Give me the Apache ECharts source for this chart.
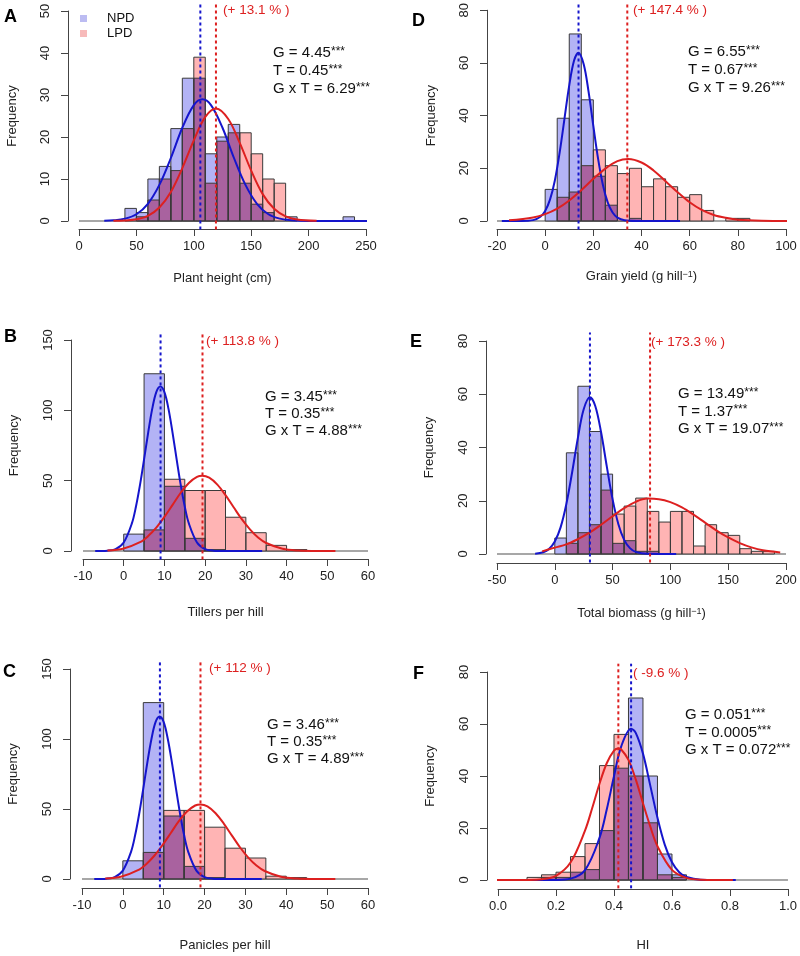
<!DOCTYPE html>
<html><head><meta charset="utf-8">
<script src="https://cdn.jsdelivr.net/npm/echarts@6/dist/echarts.min.js"></script>
<style>html,body{margin:0;padding:0;background:#fff}#c{width:800px;height:956px}</style>
</head><body><div id="c"></div>
<script>
// ---------------- DATA ----------------
// Panel A: Plant height (cm)
const A_breaks = [20,30,40,50,60,70,80,90,100,110,120,130,140,150,160,170,180,190,200,210,220,230,240];
const A_npd = [0,0,3,2,10,13,22,34,34,16,20,23,9,4,2,0,1,0,0,0,0,1];
const A_lpd = [0,0,0,1,5,10,12,22,39,9,19,21,21,16,10,9,0,0,0,0,0,0];
const A_means = [105.7, 119.3];
const A_npdCurve = [[22,0.05],[30,0.16],[40,0.56],[50,1.6],[60,4.1],[70,8.6],[80,15],[90,22.2],[100,27.6],[107.5,29],[115,27.6],[125,22.2],[135,15],[145,8.6],[155,4.1],[165,1.6],[175,0.56],[185,0.16],[200,0.02],[255,0]];
const A_lpdCurve = [[30,0.03],[40,0.11],[50,0.4],[60,1.2],[70,3.2],[80,6.9],[90,12.6],[100,19.2],[110,24.8],[119.5,26.8],[130,24.3],[140,18.6],[150,12],[160,6.4],[170,2.9],[180,1.1],[190,0.35],[207,0.03]];
const A_xTicks = [0,50,100,150,200,250];
const A_yTicks = [0,10,20,30,40,50];
const A_stats = ['4.45','0.45','6.29'];
const A_pct = '(+ 13.1 % )';

// Panel D: Grain yield
const D_breaks = [0,5,10,15,20,25,30,35,40,45,50,55,60,65,70,75,80,85];
const D_npd = [12,39,71,46,17,6,0,1,0,0,0,0,0,0,0,0,0];
const D_lpd = [0,9,11,21,27,21,18,20,13,16,13,9,10,4,0,1,1];
const D_means = [13.85, 34.1];
const D_npdCurve = [[-18,0],[-10,0.01],[-5,0.33],[-2,1.6],[0,3.8],[2,8.1],[4,15.3],[6,25.9],[8,38.7],[10,51.5],[12,60.9],[13.8,63.9],[16,59.5],[18,49.2],[20,36.1],[22,23.5],[24,13.6],[26,7.0],[28,3.2],[30,1.3],[33,0.27],[38,0.01],[56,0]];
const D_lpdCurve = [[-15,0.26],[-5,1.35],[0,2.6],[5,4.7],[10,7.8],[15,11.7],[20,16],[25,19.9],[30,22.7],[34.5,23.5],[40,22.2],[45,19.2],[50,15.1],[55,10.9],[60,7.1],[65,4.2],[70,2.3],[75,1.2],[80,0.5],[90,0.1],[104,0]];
const D_xTicks = [-20,0,20,40,60,80,100];
const D_yTicks = [0,20,40,60,80];
const D_stats = ['6.55','0.67','9.26'];
const D_pct = '(+ 147.4 % )';

// Panel B: Tillers per hill
const B_breaks = [0,5,10,15,20,25,30,35,40,45];
const B_npd = [12,126,46,9,1,0,0,0,0];
const B_lpd = [0,15,51,43,43,24,13,4,1];
const B_means = [9.05, 19.35];
const B_npdCurve = [[-7,0],[-4,0.25],[-2,1.4],[0,6.1],[2,19.6],[3,31.5],[4,47],[5,65.2],[6,84],[7,101],[8,113],[9,117],[10,113],[11,101],[12,84],[13,65.2],[14,47],[15,31.5],[16,19.6],[18,6.1],[20,1.4],[22,0.25],[25,0.01],[34,0]];
const B_lpdCurve = [[-4,0.37],[0,1.8],[4,6.3],[6,10.6],[8,16.6],[10,24.3],[12,32.8],[14,41.4],[16,48.4],[18,52.7],[19.3,53.5],[21,52.1],[23,47.2],[25,39.7],[27,31.1],[29,22.6],[31,15.4],[33,9.6],[35,5.7],[39,1.6],[43,0.32],[47,0.05],[52,0]];
const B_xTicks = [-10,0,10,20,30,40,50,60];
const B_yTicks = [0,50,100,150];
const B_stats = ['3.45','0.35','4.88'];
const B_pct = '(+ 113.8 % )';

// Panel E: Total biomass
const E_breaks = [0,10,20,30,40,50,60,70,80,90,100,110,120,130,140,150,160,170,180,190];
const E_npd = [6,38,63,46,30,4,5,1,1,0,0,0,0,0,0,0,0,0,0];
const E_lpd = [0,4,8,11,24,15,18,21,16,12,16,16,3,11,8,7,2,1,1];
const E_means = [30.4, 82.4];
const E_npdCurve = [[-17,0.12],[-10,0.67],[-5,1.9],[0,4.7],[5,10],[10,18.8],[15,30.7],[20,43.7],[25,54.4],[30.4,58.9],[35,55.6],[40,45.8],[45,32.8],[50,20.5],[55,11.2],[60,5.3],[65,2.2],[70,0.8],[80,0.07],[105,0]];
const E_lpdCurve = [[-11,1.0],[0,2.4],[10,3.6],[20,5.6],[30,8.0],[40,11],[50,14.2],[60,17.2],[70,19.6],[80,20.8],[90,20.6],[100,19.5],[110,17.5],[120,14.8],[130,11.8],[140,8.8],[150,6.2],[160,4.1],[170,2.5],[180,1.4],[195,0.6]];
const E_xTicks = [-50,0,50,100,150,200];
const E_yTicks = [0,20,40,60,80];
const E_stats = ['13.49','1.37','19.07'];
const E_pct = '(+ 173.3 % )';

// Panel C: Panicles per hill
const C_breaks = [0,5,10,15,20,25,30,35,40,45];
const C_npd = [13,126,45,9,1,0,0,0,0];
const C_lpd = [0,19,49,49,37,22,15,2,1];
const C_means = [9.07, 19.0];
const C_npdCurve = [[-7,0],[-4,0.25],[-2,1.4],[0,6.0],[2,19.4],[3,31.2],[4,46.6],[5,64.6],[6,83.3],[7,100],[8,112],[9,116],[10,112],[11,100],[12,83.3],[13,64.6],[14,46.6],[15,31.2],[16,19.4],[18,6],[20,1.4],[22,0.25],[25,0.01],[34,0]];
const C_lpdCurve = [[-4.3,0.37],[-0.3,1.8],[3.7,6.3],[5.7,10.6],[7.7,16.6],[9.7,24.2],[11.7,32.7],[13.7,41.3],[15.7,48.2],[17.7,52.5],[19,53.3],[20.7,51.9],[22.7,47],[24.7,39.6],[26.7,31],[28.7,22.5],[30.7,15.3],[32.7,9.6],[34.7,5.7],[38.7,1.6],[42.7,0.32],[46.7,0.05],[52,0]];
const C_xTicks = [-10,0,10,20,30,40,50,60];
const C_yTicks = [0,50,100,150];
const C_stats = ['3.46','0.35','4.89'];
const C_pct = '(+ 112 % )';

// Panel F: HI
const F_breaks = [0.10,0.15,0.20,0.25,0.30,0.35,0.40,0.45,0.50,0.55,0.60,0.65];
const F_npd = [0,1,1,3,4,19,43,70,40,10,2];
const F_lpd = [1,2,3,9,14,44,56,40,22,2,1];
const F_means = [0.459, 0.415];
const F_npdCurve = [[0.10,0],[0.20,0.04],[0.25,0.52],[0.30,3.8],[0.35,16.2],[0.375,27.1],[0.40,39.9],[0.425,51.4],[0.459,58.2],[0.475,56.6],[0.50,48.6],[0.525,36.4],[0.55,23.9],[0.575,13.6],[0.60,6.8],[0.625,3.0],[0.65,1.13],[0.70,0.11],[0.82,0]];
const F_lpdCurve = [[-0.04,0],[0.05,0],[0.10,0.03],[0.15,0.27],[0.20,1.6],[0.25,6.7],[0.30,19],[0.325,27.7],[0.35,37],[0.375,44.9],[0.40,49.8],[0.415,50.6],[0.425,50.2],[0.45,46.2],[0.475,38.7],[0.50,29.5],[0.525,20.6],[0.55,13],[0.60,3.9],[0.65,0.8],[0.70,0.12],[0.81,0]];
const F_xTicks = [0,0.2,0.4,0.6,0.8,1.0];
const F_yTicks = [0,20,40,60,80];
const F_stats = ['0.051','0.0005','0.072'];
const F_pct = '( -9.6 % )';

const legendNames = ['NPD','LPD'];

// ---------------- STYLE / LAYOUT ----------------
const FONT = 'Liberation Sans';
const COL_NPD = '#b3b3f5', COL_LPD = '#ffb4b4', COL_OVL = '#a9629f';
const COL_BORDER = '#3a3a3a';
const COL_BLUE = '#1515cc', COL_RED = '#dd2020';

const panels = [
  {key:'A', breaks:A_breaks, npd:A_npd, lpd:A_lpd, means:A_means, nc:A_npdCurve, lc:A_lpdCurve, xt:A_xTicks, yt:A_yTicks, stats:A_stats, pct:A_pct, xname:'Plant height (cm)',
   grid:{left:79,top:11,width:287,height:210}, yoff:11, xoff:8, xgap:43, ygap:49,
   letter:[4,17], statPos:[273,53,18], pctPos:[223,10]},
  {key:'D', breaks:D_breaks, npd:D_npd, lpd:D_lpd, means:D_means, nc:D_npdCurve, lc:D_lpdCurve, xt:D_xTicks, yt:D_yTicks, stats:D_stats, pct:D_pct, xname:'Grain yield (g hill{s|−1})',
   grid:{left:497,top:10,width:289,height:211}, yoff:10, xoff:8, xgap:41, ygap:49,
   letter:[412,21], statPos:[688,52,18], pctPos:[633,10]},
  {key:'B', breaks:B_breaks, npd:B_npd, lpd:B_lpd, means:B_means, nc:B_npdCurve, lc:B_lpdCurve, xt:B_xTicks, yt:B_yTicks, stats:B_stats, pct:B_pct, xname:'Tillers per hill',
   grid:{left:83,top:340,width:285,height:211}, yoff:12, xoff:8, xgap:47, ygap:50,
   letter:[4,337], statPos:[265,397,17], pctPos:[206,341]},
  {key:'E', breaks:E_breaks, npd:E_npd, lpd:E_lpd, means:E_means, nc:E_npdCurve, lc:E_lpdCurve, xt:E_xTicks, yt:E_yTicks, stats:E_stats, pct:E_pct, xname:'Total biomass (g hill{s|−1})',
   grid:{left:497,top:341,width:289,height:213}, yoff:11, xoff:9, xgap:44, ygap:50,
   letter:[410,342], statPos:[678,394,17.5], pctPos:[651,342]},
  {key:'C', breaks:C_breaks, npd:C_npd, lpd:C_lpd, means:C_means, nc:C_npdCurve, lc:C_lpdCurve, xt:C_xTicks, yt:C_yTicks, stats:C_stats, pct:C_pct, xname:'Panicles per hill',
   grid:{left:82,top:669,width:286,height:210}, yoff:12, xoff:9, xgap:51, ygap:50,
   letter:[3,672], statPos:[267,725,17], pctPos:[209,668]},
  {key:'F', breaks:F_breaks, npd:F_npd, lpd:F_lpd, means:F_means, nc:F_npdCurve, lc:F_lpdCurve, xt:F_xTicks, yt:F_yTicks, stats:F_stats, pct:F_pct, xname:'HI',
   grid:{left:498,top:672,width:290,height:208}, yoff:11, xoff:9, xgap:50, ygap:50,
   letter:[413,674], statPos:[685,715,17.5], pctPos:[633,673], xfmt: v => v.toFixed(1)}
];

function bins(breaks, counts) {
  const out = [];
  for (let i = 0; i < counts.length; i++) if (counts[i] > 0) out.push([breaks[i], breaks[i+1], counts[i]]);
  return out;
}
function overlapBins(breaks, a, b) {
  const out = [];
  for (let i = 0; i < a.length; i++) { const m = Math.min(a[i], b[i]); if (m > 0) out.push([breaks[i], breaks[i+1], m]); }
  return out;
}
function rectRender(fill, stroke) {
  return function (params, api) {
    const p0 = api.coord([api.value(0), api.value(2)]);
    const p1 = api.coord([api.value(1), 0]);
    return {type:'rect', shape:{x:p0[0], y:p0[1], width:p1[0]-p0[0], height:p1[1]-p0[1]},
            style:{fill: fill || 'none', stroke: stroke || 'none', lineWidth: 1}};
  };
}

const grids = [], xAxes = [], yAxes = [], series = [], graphics = [];
panels.forEach((p, i) => {
  grids.push(Object.assign({containLabel:false}, p.grid));
  const xmin = p.xt[0], xmax = p.xt[p.xt.length-1];
  const ymin = p.yt[0], ymax = p.yt[p.yt.length-1];
  xAxes.push({type:'value', gridIndex:i, min:xmin, max:xmax, interval:p.xt[1]-p.xt[0], position:'bottom', offset:p.xoff,
    axisLine:{show:true, onZero:false, lineStyle:{color:'#444', width:1}},
    axisTick:{show:true, length:7, lineStyle:{color:'#444', width:1}},
    axisLabel:{fontSize:13, color:'#222', fontFamily:FONT, margin:11, formatter: p.xfmt || (v => String(v))},
    splitLine:{show:false},
    name:p.xname, nameLocation:'middle', nameGap:p.xgap,
    nameTextStyle:{fontSize:13, color:'#222', fontFamily:FONT, rich:{s:{fontSize:9, color:'#222', fontFamily:FONT, verticalAlign:'top'}}}
  });
  yAxes.push({type:'value', gridIndex:i, min:ymin, max:ymax, interval:p.yt[1]-p.yt[0], position:'left', offset:p.yoff,
    axisLine:{show:true, onZero:false, lineStyle:{color:'#444', width:1}},
    axisTick:{show:true, length:7, lineStyle:{color:'#444', width:1}},
    axisLabel:{fontSize:13, color:'#222', fontFamily:FONT, rotate:90, margin:16},
    splitLine:{show:false},
    name:'Frequency', nameLocation:'middle', nameRotate:90, nameGap:p.ygap,
    nameTextStyle:{fontSize:13, color:'#222', fontFamily:FONT}
  });
  const ax = {xAxisIndex:i, yAxisIndex:i};
  const pad = 0.04 * (ymax - ymin);
  series.push(Object.assign({type:'line', data:[[xmin,0],[xmax,0]], symbol:'none', silent:true, clip:false, z:1,
    lineStyle:{color:'#8a8a8a', width:1.5}}, ax));
  series.push(Object.assign({type:'custom', name:legendNames[0], renderItem:rectRender(COL_NPD, null), data:bins(p.breaks, p.npd), encode:{x:[0,1], y:2}, itemStyle:{color:COL_NPD}, silent:true, z:2}, ax));
  series.push(Object.assign({type:'custom', name:legendNames[1], renderItem:rectRender(COL_LPD, null), data:bins(p.breaks, p.lpd), encode:{x:[0,1], y:2}, itemStyle:{color:COL_LPD}, silent:true, z:2}, ax));
  series.push(Object.assign({type:'custom', renderItem:rectRender(COL_OVL, null), data:overlapBins(p.breaks, p.npd, p.lpd), encode:{x:[0,1], y:2}, silent:true, z:2}, ax));
  series.push(Object.assign({type:'custom', renderItem:rectRender(null, COL_BORDER), data:bins(p.breaks, p.npd), encode:{x:[0,1], y:2}, silent:true, z:3}, ax));
  series.push(Object.assign({type:'custom', renderItem:rectRender(null, COL_BORDER), data:bins(p.breaks, p.lpd), encode:{x:[0,1], y:2}, silent:true, z:3}, ax));
  series.push(Object.assign({type:'line', data:p.nc, symbol:'none', smooth:0.35, clip:false, silent:true, z:4, lineStyle:{color:COL_BLUE, width:2}}, ax));
  series.push(Object.assign({type:'line', data:p.lc, symbol:'none', smooth:0.35, clip:false, silent:true, z:4, lineStyle:{color:COL_RED, width:2}}, ax));
  series.push(Object.assign({type:'line', data:[[p.means[0], ymin-pad],[p.means[0], ymax+pad]], symbol:'none', clip:false, silent:true, z:5, lineStyle:{color:COL_BLUE, width:2, type:[3,3]}}, ax));
  series.push(Object.assign({type:'line', data:[[p.means[1], ymin-pad],[p.means[1], ymax+pad]], symbol:'none', clip:false, silent:true, z:5, lineStyle:{color:COL_RED, width:2, type:[3,3]}}, ax));

  // annotations
  graphics.push({type:'text', x:p.letter[0], y:p.letter[1], style:{text:p.key, font:'bold 18px "Liberation Sans"', fill:'#000', verticalAlign:'middle', align:'left'}});
  const labs = ['G = ', 'T = ', 'G x T = '];
  labs.forEach((l, k) => {
    graphics.push({type:'text', x:p.statPos[0], y:p.statPos[1] + k*p.statPos[2],
      style:{text: l + p.stats[k] + '{s|***}', font:'15px "Liberation Sans"', fill:'#111', verticalAlign:'middle', align:'left',
        rich:{s:{font:'12px "Liberation Sans"', fill:'#111', verticalAlign:'top'}}}});
  });
  graphics.push({type:'text', x:p.pctPos[0], y:p.pctPos[1], style:{text:p.pct, font:'13.5px "Liberation Sans"', fill:COL_RED, verticalAlign:'middle', align:'left'}});
});

const chart = echarts.init(document.getElementById('c'), null, {renderer:'canvas'});
chart.setOption({
  animation:false,
  backgroundColor:'#fff',
  grid:grids, xAxis:xAxes, yAxis:yAxes, series:series,
  legend:{data:[{name:'NPD', itemStyle:{color:'#bcbcf2'}},{name:'LPD', itemStyle:{color:'#f7baba'}}], orient:'vertical', left:80, top:12, padding:0,
    itemWidth:7, itemHeight:7, itemGap:2, icon:'rect', selectedMode:false,
    textStyle:{fontSize:13, color:'#111', fontFamily:FONT, lineHeight:13, padding:[0,0,0,15]}},
  graphic:graphics
});
</script></body></html>
